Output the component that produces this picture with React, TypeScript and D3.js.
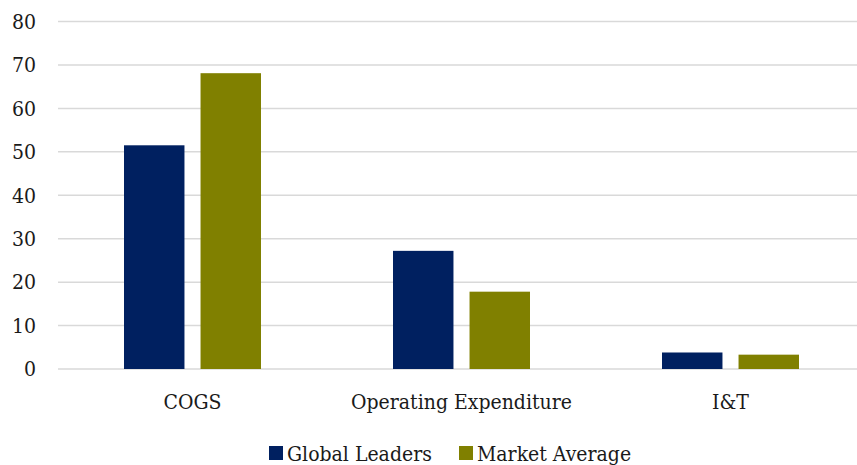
import { useRef, useEffect } from "react";
import * as d3 from "d3";

const categories = ["COGS", "Operating Expenditure", "I&T"];
const seriesNames = ["Global Leaders", "Market Average"];
const globalLeaders = [51.5, 27.2, 3.8];
const marketAverage = [68.1, 17.8, 3.3];
const yTicks = [0, 10, 20, 30, 40, 50, 60, 70, 80];
const colors = ["#002060", "#808000"];

const WIDTH = 857;
const HEIGHT = 465;
const FONT = "'DejaVu Serif Condensed', 'DejaVu Serif', serif";

const App = () => {
  const ref = useRef<SVGSVGElement>(null);

  useEffect(() => {
    if (!ref.current) return;
    const svg = d3.select(ref.current);
    svg.selectAll("*").remove();

    const left = 58;
    const right = 865;
    const top = 21.5;
    const bottom = 369;

    const x = d3.scaleBand().domain(categories).range([left, right]);
    const inner = d3
      .scaleBand()
      .domain(seriesNames)
      .range([66, 203])
      .paddingInner(0.21);
    const y = d3.scaleLinear().domain([0, 80]).range([bottom, top]);

    // gridlines
    svg
      .append("g")
      .selectAll("line")
      .data(yTicks)
      .enter()
      .append("line")
      .attr("x1", left)
      .attr("x2", right)
      .attr("y1", (d) => y(d))
      .attr("y2", (d) => y(d))
      .attr("stroke", "#d9d9d9")
      .attr("stroke-width", 1.5);

    // y labels
    svg
      .append("g")
      .selectAll("text")
      .data(yTicks)
      .enter()
      .append("text")
      .attr("x", 36)
      .attr("y", (d) => y(d))
      .attr("dy", "0.35em")
      .attr("text-anchor", "end")
      .style("font-family", FONT)
      .style("font-size", "21px")
      .style("fill", "#1a1a1a")
      .text((d) => d);

    const series = [globalLeaders, marketAverage];
    series.forEach((vals, si) => {
      svg
        .append("g")
        .selectAll("rect")
        .data(vals)
        .enter()
        .append("rect")
        .attr("x", (_d, i) => x(categories[i])! + inner(seriesNames[si])!)
        .attr("y", (d) => y(d))
        .attr("width", inner.bandwidth())
        .attr("height", (d) => y(0) - y(d))
        .attr("fill", colors[si]);
    });

    // category labels
    svg
      .append("g")
      .selectAll("text")
      .data(categories)
      .enter()
      .append("text")
      .attr("x", (d) => x(d)! + x.bandwidth() / 2)
      .attr("y", 409)
      .attr("text-anchor", "middle")
      .style("font-family", FONT)
      .style("font-size", "21px")
      .style("fill", "#1a1a1a")
      .text((d) => d);

    // legend
    const legendX = [269, 459];
    seriesNames.forEach((name, i) => {
      const g = svg.append("g").attr("transform", `translate(${legendX[i]},446)`);
      g.append("rect").attr("width", 14).attr("height", 14).attr("fill", colors[i]);
      g.append("text")
        .attr("x", 18)
        .attr("y", 14.5)
        .style("font-family", FONT)
        .style("font-size", "21px")
        .style("fill", "#1a1a1a")
        .text(name);
    });
  }, []);

  return (
    <svg
      ref={ref}
      width={WIDTH}
      height={HEIGHT}
      style={{ position: "fixed", left: 0, top: 0, background: "#fff" }}
    />
  );
};

export default App;
